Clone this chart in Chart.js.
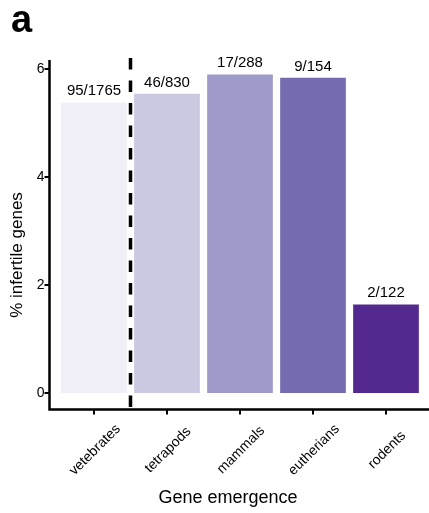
<!DOCTYPE html>
<html>
<head>
<meta charset="utf-8">
<script src="https://cdn.jsdelivr.net/npm/chart.js@4/dist/chart.umd.min.js"></script>
<style>
  html, body { margin: 0; padding: 0; background: #fff; }
  #wrap { width: 429px; height: 513px; position: relative; }
</style>
</head>
<body>
<div id="wrap"><canvas id="chart"></canvas></div>
<script>
const categories = ["vetebrates", "tetrapods", "mammals", "eutherians", "rodents"];
const infertilePct = [5.38, 5.54, 5.9, 5.84, 1.64];
const countLabels = ["95/1765", "46/830", "17/288", "9/154", "2/122"];
const barColors = ["#f1eff7", "#cbc8e2", "#9e9ac9", "#756bb1", "#54298f"];
const yTicks = [0, 2, 4, 6];

const FONT = "'Liberation Sans', Arial, Helvetica, sans-serif";

// axes drawn detached from the bars, like the figure
const figureParts = {
  id: "figureParts",
  afterDraw(chart) {
    const ctx = chart.ctx;
    const x = chart.scales.x;
    const y = chart.scales.y;
    const axisX = 49.5;
    const axisY = 409.5;
    const top = 58;

    ctx.save();
    ctx.strokeStyle = "#000";
    ctx.fillStyle = "#000";

    // spines
    ctx.lineWidth = 2.5;
    ctx.beginPath();
    ctx.moveTo(axisX, 60);
    ctx.lineTo(axisX, axisY + 1.2);
    ctx.moveTo(axisX - 1.2, axisY);
    ctx.lineTo(chart.width, axisY);
    ctx.stroke();

    // tick marks
    ctx.lineWidth = 2;
    ctx.beginPath();
    yTicks.forEach((v) => {
      const py = y.getPixelForValue(v);
      ctx.moveTo(axisX - 5, py);
      ctx.lineTo(axisX, py);
    });
    categories.forEach((_c, i) => {
      const px = x.getPixelForValue(i);
      ctx.moveTo(px, axisY);
      ctx.lineTo(px, axisY + 5);
    });
    ctx.stroke();

    // dashed separator between vetebrates and tetrapods
    const sep = (x.getPixelForValue(0) + x.getPixelForValue(1)) / 2;
    ctx.lineWidth = 3.5;
    ctx.setLineDash([11.5, 11]);
    ctx.beginPath();
    ctx.moveTo(sep, top);
    ctx.lineTo(sep, axisY);
    ctx.stroke();
    ctx.setLineDash([]);

    // counts above bars
    ctx.font = "15px " + FONT;
    ctx.textAlign = "center";
    ctx.textBaseline = "alphabetic";
    chart.getDatasetMeta(0).data.forEach((bar, i) => {
      ctx.fillText(countLabels[i], bar.x, bar.y - 7);
    });

    // rotated category labels
    ctx.font = "14px " + FONT;
    ctx.textBaseline = "middle";
    categories.forEach((c, i) => {
      ctx.save();
      ctx.translate(x.getPixelForValue(i) + 1, 450);
      ctx.rotate(-Math.PI / 4);
      ctx.fillText(c, 0, 0);
      ctx.restore();
    });

    // axis titles
    ctx.font = "18px " + FONT;
    ctx.textBaseline = "alphabetic";
    ctx.fillText("Gene emergence", 228, 503);

    ctx.save();
    ctx.font = "17px " + FONT;
    ctx.textBaseline = "middle";
    ctx.translate(17, 255);
    ctx.rotate(-Math.PI / 2);
    ctx.fillText("% infertile genes", 0, 0);
    ctx.restore();

    // panel letter
    ctx.font = "bold 38px " + FONT;
    ctx.textAlign = "left";
    ctx.fillText("a", 11, 32);

    ctx.restore();
  },
};

new Chart(document.getElementById("chart"), {
  type: "bar",
  data: {
    labels: categories,
    datasets: [
      {
        data: infertilePct,
        backgroundColor: barColors,
        borderWidth: 0,
        barPercentage: 0.9,
        categoryPercentage: 1,
      },
    ],
  },
  options: {
    responsive: true,
    maintainAspectRatio: false,
    animation: false,
    devicePixelRatio: 1,
    layout: {
      padding: { left: 0, right: 6.5, top: 69, bottom: 120 },
    },
    plugins: {
      legend: { display: false },
      tooltip: { enabled: false },
    },
    scales: {
      x: {
        display: false,
      },
      y: {
        min: 0,
        max: 6,
        afterFit(scale) {
          scale.width = 57.5;
        },
        afterBuildTicks(scale) {
          scale.ticks = yTicks.map((v) => ({ value: v }));
        },
        grid: { display: false, drawTicks: false },
        border: { display: false },
        ticks: {
          padding: 13,
          color: "#000",
          font: { family: FONT, size: 14 },
        },
      },
    },
  },
  plugins: [figureParts],
});
</script>
</body>
</html>
